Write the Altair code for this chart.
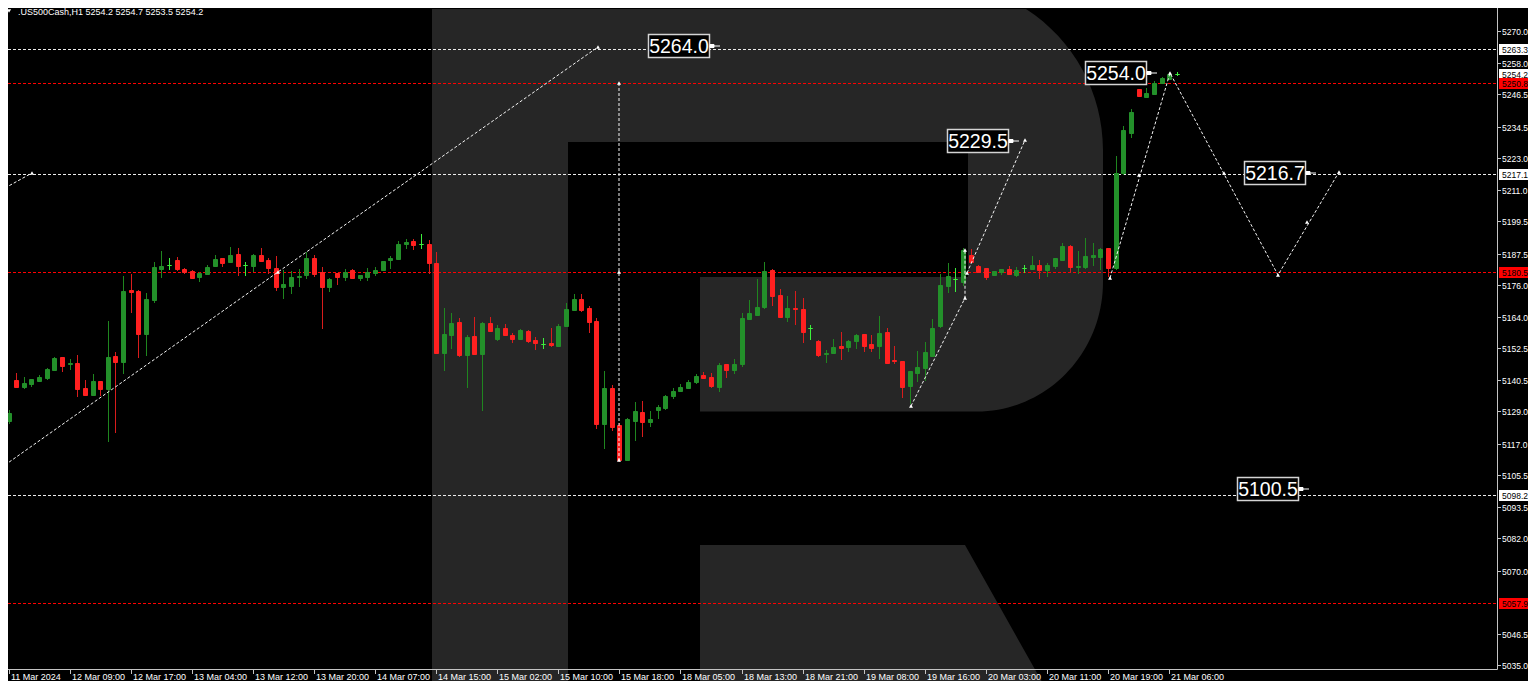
import altair as alt
import pandas as pd

# ---------------- data ----------------
opens = [5125.6, 5140.7, 5138.2, 5139.3, 5140.4, 5141.3, 5144.2, 5149.2, 5146.6, 5147.0,
         5137.8, 5135.2, 5140.3, 5137.4, 5149.7, 5147.3, 5173.9, 5173.5, 5157.7, 5170.3,
         5181.7, 5183.2, 5185.1, 5181.7, 5180.9, 5179.0, 5180.1, 5182.8, 5185.9, 5184.5,
         5187.4, 5183.1, 5182.8, 5187.0, 5185.1, 5182.2, 5175.0, 5175.5, 5178.7, 5179.5,
         5185.9, 5180.6, 5175.3, 5180.4, 5179.0, 5181.4, 5178.5, 5179.0, 5180.2, 5181.4,
         5185.0, 5185.5, 5190.9, 5192.2, 5190.9, 5190.9, 5184.1, 5150.8, 5157.5, 5162.2,
         5150.1, 5157.0, 5150.3, 5161.7, 5155.7, 5159.9, 5157.3, 5155.9, 5158.8, 5155.5,
         5154.0, 5154.2, 5153.1, 5160.7, 5166.7, 5170.7, 5167.4, 5162.5, 5124.4, 5137.8,
         5124.0, 5111.0, 5125.6, 5128.8, 5125.0, 5129.5, 5130.3, 5134.7, 5136.6, 5137.8,
         5140.0, 5142.5, 5141.8, 5138.2, 5146.7, 5144.2, 5146.5, 5163.3, 5164.9, 5167.6,
         5181.4, 5172.1, 5164.1, 5167.5, 5167.0, 5159.8, 5155.0, 5150.2, 5150.5, 5153.4,
         5152.8, 5155.0, 5157.6, 5154.0, 5153.1, 5158.4, 5148.1, 5147.7, 5138.6, 5143.1,
         5145.2, 5149.7, 5160.5, 5175.6, 5178.0, 5177.1, 5187.0, 5182.9, 5182.0, 5179.6,
         5180.7, 5181.8, 5179.7, 5182.0, 5181.7, 5183.2, 5181.3, 5183.0, 5185.1, 5190.3,
         5182.4, 5182.4, 5186.4, 5186.2, 5189.5, 5182.0, 5217.5, 5232.3, 5248.4, 5245.7,
         5246.5, 5250.6, 5252.1, 5254.2]
highs = [5129.5, 5143.4, 5141.6, 5140.9, 5142.4, 5145.0, 5149.3, 5149.2, 5148.4, 5149.8,
         5140.7, 5142.8, 5140.3, 5162.5, 5150.9, 5179.2, 5180.1, 5174.1, 5172.8, 5184.4,
         5188.5, 5186.0, 5186.1, 5182.2, 5181.4, 5180.8, 5183.4, 5187.1, 5185.9, 5189.8,
         5189.6, 5184.5, 5187.4, 5189.6, 5185.9, 5186.6, 5181.3, 5181.1, 5181.7, 5188.1,
         5186.9, 5182.4, 5178.3, 5180.4, 5181.9, 5181.7, 5179.5, 5182.3, 5182.5, 5184.9,
         5186.6, 5192.3, 5192.9, 5192.8, 5194.8, 5192.7, 5188.1, 5167.4, 5165.6, 5163.5,
         5157.3, 5163.9, 5162.2, 5163.9, 5161.2, 5161.4, 5158.2, 5159.7, 5159.2, 5156.5,
         5156.4, 5159.9, 5161.3, 5169.2, 5172.5, 5172.5, 5168.1, 5163.5, 5144.0, 5138.7,
         5124.6, 5126.7, 5132.5, 5132.9, 5129.3, 5131.3, 5135.1, 5137.8, 5139.2, 5140.7,
         5142.7, 5143.5, 5143.3, 5146.8, 5146.7, 5148.4, 5165.6, 5170.3, 5178.1, 5184.5,
         5181.9, 5174.4, 5171.8, 5173.5, 5171.0, 5160.9, 5155.4, 5151.8, 5155.7, 5158.3,
         5155.5, 5157.6, 5157.7, 5157.3, 5164.4, 5159.9, 5153.3, 5147.7, 5143.9, 5151.3,
         5154.9, 5163.3, 5179.9, 5184.1, 5182.2, 5189.5, 5189.1, 5183.1, 5182.0, 5181.1,
         5181.9, 5182.8, 5182.7, 5183.2, 5186.6, 5185.1, 5184.1, 5186.0, 5191.6, 5190.6,
         5188.5, 5193.2, 5191.3, 5189.5, 5189.5, 5223.7, 5234.8, 5241.0, 5248.4, 5248.8,
         5251.6, 5252.8, 5254.9, 5254.7]
lows = [5124.5, 5137.9, 5137.4, 5138.2, 5140.4, 5140.7, 5143.9, 5143.5, 5144.2, 5134.5,
        5134.9, 5134.9, 5134.9, 5117.8, 5121.0, 5142.9, 5165.6, 5148.9, 5149.5, 5169.3,
        5178.6, 5181.4, 5181.1, 5179.9, 5178.2, 5177.1, 5179.8, 5182.4, 5182.5, 5184.4,
        5179.3, 5179.3, 5180.7, 5184.9, 5179.8, 5173.5, 5170.7, 5172.4, 5175.0, 5178.2,
        5179.0, 5159.7, 5173.4, 5176.0, 5177.5, 5178.2, 5177.5, 5177.5, 5179.2, 5181.2,
        5181.8, 5185.1, 5189.2, 5188.8, 5189.2, 5180.1, 5150.3, 5144.1, 5152.0, 5149.3,
        5137.8, 5149.9, 5129.2, 5158.5, 5155.2, 5157.0, 5154.5, 5155.7, 5154.2, 5151.8,
        5152.3, 5152.8, 5152.9, 5160.4, 5166.6, 5166.0, 5158.2, 5122.6, 5115.1, 5121.9,
        5110.4, 5110.9, 5118.2, 5119.6, 5123.2, 5126.2, 5129.6, 5133.7, 5136.2, 5137.3,
        5139.3, 5141.4, 5137.8, 5136.3, 5141.4, 5142.9, 5145.4, 5162.9, 5164.8, 5167.0,
        5168.2, 5163.8, 5162.0, 5161.0, 5154.2, 5155.6, 5149.3, 5147.1, 5150.3, 5148.1,
        5151.1, 5152.1, 5151.1, 5151.1, 5148.4, 5146.7, 5146.6, 5133.9, 5131.8, 5140.0,
        5140.4, 5149.3, 5160.0, 5172.8, 5173.4, 5175.5, 5183.9, 5180.3, 5177.7, 5179.1,
        5179.6, 5179.8, 5179.0, 5180.2, 5181.4, 5178.1, 5179.0, 5181.7, 5184.6, 5180.4,
        5180.1, 5181.9, 5182.9, 5181.4, 5179.0, 5181.5, 5216.6, 5230.2, 5245.4, 5245.1,
        5246.3, 5250.6, 5251.8, 5253.5]
closes = [5128.5, 5138.2, 5139.5, 5140.9, 5141.8, 5144.6, 5148.9, 5145.9, 5147.1, 5137.4,
          5135.2, 5140.3, 5137.3, 5149.2, 5147.3, 5173.8, 5173.2, 5157.7, 5170.7, 5182.4,
          5183.0, 5183.2, 5181.8, 5180.6, 5178.5, 5180.4, 5182.7, 5185.5, 5184.1, 5187.0,
          5182.8, 5183.1, 5187.0, 5184.9, 5182.2, 5175.0, 5176.2, 5178.8, 5179.2, 5185.9,
          5180.1, 5175.0, 5178.1, 5179.0, 5180.8, 5178.5, 5179.5, 5180.8, 5181.4, 5184.9,
          5186.0, 5191.2, 5191.9, 5190.6, 5190.9, 5183.9, 5150.5, 5157.7, 5161.7, 5149.9,
          5156.7, 5150.3, 5161.7, 5159.0, 5159.9, 5157.3, 5155.7, 5159.2, 5155.2, 5154.2,
          5154.0, 5153.5, 5160.7, 5167.0, 5170.6, 5166.5, 5162.2, 5124.4, 5137.8, 5123.2,
          5111.0, 5126.1, 5129.2, 5125.0, 5126.3, 5130.8, 5134.6, 5136.7, 5138.1, 5140.0,
          5142.1, 5141.5, 5138.4, 5146.2, 5144.2, 5146.7, 5163.5, 5165.4, 5167.7, 5181.1,
          5171.8, 5164.0, 5167.3, 5167.0, 5158.6, 5159.8, 5149.9, 5150.8, 5152.8, 5152.7,
          5155.2, 5157.3, 5153.4, 5152.5, 5158.1, 5147.1, 5147.8, 5137.9, 5143.9, 5145.6,
          5151.0, 5159.9, 5175.9, 5179.1, 5178.0, 5188.8, 5184.5, 5180.6, 5179.0, 5181.1,
          5181.9, 5180.1, 5181.6, 5182.0, 5183.3, 5181.4, 5183.3, 5185.7, 5190.3, 5182.4,
          5183.0, 5186.6, 5187.0, 5189.1, 5182.0, 5217.3, 5233.3, 5240.1, 5245.9, 5246.9,
          5250.9, 5252.5, 5253.9, 5254.2]
assert len(opens) == len(highs) == len(lows) == len(closes) == 154

symbol = ".US500Cash,H1"

x_tick_bars = [0, 8, 16, 24, 32, 40, 48, 56, 64, 72, 80, 88, 96, 104, 112, 120, 128, 136, 144, 152]
x_tick_labels = ["11 Mar 2024", "12 Mar 09:00", "12 Mar 17:00", "13 Mar 04:00", "13 Mar 12:00",
                 "13 Mar 20:00", "14 Mar 07:00", "14 Mar 15:00", "15 Mar 02:00", "15 Mar 10:00",
                 "15 Mar 18:00", "18 Mar 05:00", "18 Mar 13:00", "18 Mar 21:00", "19 Mar 08:00",
                 "19 Mar 16:00", "20 Mar 03:00", "20 Mar 11:00", "20 Mar 19:00", "21 Mar 06:00"]
y_tick_values = [5270.0, 5258.0, 5246.5, 5234.5, 5223.0, 5211.0, 5199.5, 5187.5, 5176.0, 5164.0,
                 5152.5, 5140.5, 5129.0, 5117.0, 5105.5, 5093.5, 5082.0, 5070.0, 5046.5, 5035.0]

level_prices = [5263.3, 5250.8, 5217.1, 5180.5, 5098.2, 5057.9]
level_kinds = ["white", "red", "white", "red", "white", "red"]

tag_prices = [5263.3, 5254.2, 5250.8, 5217.1, 5180.5, 5098.2, 5057.9]
tag_kinds = ["white", "white", "red", "white", "red", "white", "red"]

# forecast path segments (bar index, price)
path_seg = [0, 0, 0, 1, 1, 2, 2, 3, 3, 3, 4, 4, 5, 5, 5, 5]
path_bar = [-0.5, 35.3, 77.2, -0.5, 3.06, 80.0, 80.0, 118.2, 125.2, 125.2, 125.5, 133.1,
            144.2, 152.1, 166.2, 174.2]
path_price = [5109.3, 5180.5, 5264.0, 5211.7, 5217.3, 5250.8, 5111.0, 5131.0, 5171.0, 5188.9,
              5180.3, 5229.6, 5178.5, 5254.4, 5179.6, 5217.7]

marker_bar = [35.3, 77.2, 3.06, 80.0, 80.0, 80.0, 118.2, 125.2, 125.2, 125.5, 133.1,
              144.2, 148.1, 152.1, 159.2, 166.2, 170.1, 174.2]
marker_price = [5180.5, 5264.0, 5217.3, 5250.8, 5180.5, 5111.0, 5131.0, 5171.0, 5188.9, 5180.3,
                5229.6, 5178.5, 5216.6, 5254.4, 5217.4, 5179.6, 5199.2, 5217.7]

target_text = ["5264.0", "5254.0", "5229.5", "5216.7", "5100.5"]
target_bar = [87.87, 144.97, 127.02, 165.92, 164.94]
target_price = [5264.3, 5254.4, 5229.4, 5217.4, 5100.1]

# ---------------- layout / styles ----------------
W, H = 1489, 661
X_DOM = [0.5854, 194.276]
Y_DOM = [5033.54, 5278.535]
FONT = "Liberation Sans"
BG = "#000000"
LOGO = "#262626"
AXIS = "#c4c4c4"

xs = alt.Scale(domain=X_DOM, nice=False, zero=False, round=True)
ys = alt.Scale(domain=Y_DOM, nice=False, zero=False, round=True)


def X(f):
    return alt.X(f, type="quantitative", scale=xs, axis=None)


def Y(f):
    return alt.Y(f, type="quantitative", scale=ys, axis=None)


candles = pd.DataFrame({"bar": list(range(len(opens))), "o": opens, "h": highs, "l": lows, "c": closes})
one = pd.DataFrame({"k": [0]})

# R watermark drawn as one custom symbol in page pixels (size 4 -> 1 unit = 1px)
logo_path = ("M432,9H1026C1074,40 1103,92.9 1103,150V282C1103,353.5 1046.6,411.5 977,411.5"
             "H700V277H968V142H568V689H432Z M700,545H965L1046,689H700Z")
logo = alt.Chart(one).mark_point(shape=logo_path, size=4, filled=True, color=LOGO, opacity=1,
                                 strokeWidth=0).encode(x=alt.value(-8), y=alt.value(-8))

lv = pd.DataFrame({"price": level_prices, "kind": level_kinds})
levels_white = alt.Chart(lv).transform_filter("datum.kind == 'white'").mark_rule(
    strokeDash=[3, 2], strokeWidth=1, yOffset=0.5, y2Offset=0.5, color="#ececec").encode(
    y=Y("price"), y2="price:Q", x=alt.value(0), x2=alt.value(W))
levels_red = alt.Chart(lv).transform_filter("datum.kind == 'red'").mark_rule(
    strokeDash=[3, 2], strokeWidth=1, yOffset=0.5, y2Offset=0.5, color="#ff0000").encode(
    y=Y("price"), y2="price:Q", x=alt.value(0), x2=alt.value(W))

wicks = alt.Chart(candles).transform_calculate(
    wc="datum.c > datum.o ? '#1f861f' : (datum.c < datum.o ? '#d81c1c' : '#3cf03c')"
).mark_rule(strokeWidth=1, xOffset=0.5, x2Offset=0.5, clip=True).encode(
    x=X("bar"), y=Y("l"), y2="h:Q", color=alt.Color("wc:N", scale=None))

bodies = alt.Chart(candles).transform_calculate(
    bc="datum.c > datum.o ? '#23902a' : (datum.c < datum.o ? '#ff2020' : '#3cf03c')"
).mark_bar(size=4, strokeWidth=1, xOffset=0.5, yOffset=0.5, y2Offset=0.5, clip=True).encode(
    x=X("bar"), y=Y("o"), y2="c:Q",
    color=alt.Color("bc:N", scale=None), stroke=alt.Stroke("bc:N", scale=None))

paths = alt.Chart(pd.DataFrame({"seg": path_seg, "idx": list(range(len(path_seg))),
                                "bar": path_bar, "price": path_price})).mark_line(
    strokeDash=[3, 2], strokeWidth=1, color="#f4f4f4", clip=True).encode(
    x=X("bar"), y=Y("price"), detail="seg:N", order="idx:Q")

markers = alt.Chart(pd.DataFrame({"bar": marker_bar, "price": marker_price})).mark_point(
    shape="triangle-up", size=16, filled=True, color="#ffffff", opacity=1).encode(
    x=X("bar"), y=Y("price"))

tdf = pd.DataFrame({"t": target_text, "bar": target_bar, "price": target_price})
tbox = alt.Chart(tdf).mark_point(shape="M-30.5,-11.5H30.5V11.5H-30.5Z", size=4, filled=True,
                                 fill="#000000", stroke="#d4d4d4", strokeWidth=1.5, opacity=1).encode(
    x=X("bar"), y=Y("price"))
tconn = alt.Chart(tdf).mark_point(shape="M31,-1.5H35V1.5H31Z M35,0H41", size=4, filled=True,
                                  fill="#ffffff", stroke="#ffffff", strokeWidth=1, opacity=1).encode(
    x=X("bar"), y=Y("price"))
ttext = alt.Chart(tdf).mark_text(font=FONT, fontSize=19.5, color="#ffffff", align="center",
                                 baseline="middle", dy=1).encode(x=X("bar"), y=Y("price"), text="t:N")

# ---- hand-drawn axes (right price scale, bottom time scale) ----
yaxis_line = alt.Chart(one).mark_rule(color=AXIS, strokeWidth=1).encode(
    x=alt.value(W + 0.5), x2=alt.value(W + 0.5), y=alt.value(0), y2=alt.value(H + 0.5))
xaxis_line = alt.Chart(one).mark_rule(color=AXIS, strokeWidth=1).encode(
    x=alt.value(0), x2=alt.value(W + 0.5), y=alt.value(H + 0.5), y2=alt.value(H + 0.5))

ytk = pd.DataFrame({"price": y_tick_values})
yticks = alt.Chart(ytk).mark_rule(color=AXIS, strokeWidth=1, yOffset=0.5, y2Offset=0.5).encode(
    y=Y("price"), y2="price:Q", x=alt.value(W + 1), x2=alt.value(W + 4))
ylabels = alt.Chart(ytk).mark_text(font=FONT, fontSize=8.5, color="#ffffff", align="left",
                                   baseline="middle", dy=1).encode(
    y=Y("price"), x=alt.value(W + 5), text=alt.Text("price:Q", format=".1f"))

xtk = pd.DataFrame({"bar": x_tick_bars, "lab": x_tick_labels})
xticks = alt.Chart(xtk).mark_rule(color=AXIS, strokeWidth=1, xOffset=0.5, x2Offset=0.5).encode(
    x=X("bar"), x2="bar:Q", y=alt.value(H + 1), y2=alt.value(H + 5))
xlabels = alt.Chart(xtk).mark_text(font=FONT, fontSize=9, color="#ffffff", align="left",
                                   baseline="alphabetic", dx=2).encode(
    x=X("bar"), y=alt.value(H + 11), text="lab:N")

tagdf = pd.DataFrame({"price": tag_prices, "kind": tag_kinds})
tagbox = alt.Chart(tagdf).transform_calculate(
    col="datum.kind == 'red' ? '#ff0000' : '#ffffff'"
).mark_point(shape="M-16.5,-5.5H16.5V5.5H-16.5Z", size=4, filled=True, opacity=1, strokeWidth=0,
             yOffset=0.5).encode(
    x=alt.value(W + 18.5), y=Y("price"), color=alt.Color("col:N", scale=None))
tagtext = alt.Chart(tagdf).mark_text(font=FONT, fontSize=8.5, color="#000000", align="left",
                                     baseline="middle", dy=1).encode(
    x=alt.value(W + 5), y=Y("price"), text=alt.Text("price:Q", format=".1f"))

title_str = f"{symbol}  " + " ".join(f"{v:.1f}" for v in [opens[-1], highs[-1], lows[-1], closes[-1]])
title = alt.Chart(one).mark_text(text=title_str, font=FONT, fontSize=9, color="#ffffff",
                                 align="left", baseline="top").encode(x=alt.value(10), y=alt.value(0))
icon = alt.Chart(one).mark_point(shape="triangle-down", size=18, filled=True, color="#ffffff",
                                 opacity=1).encode(x=alt.value(1), y=alt.value(3))

chart = alt.layer(
    logo, levels_white, levels_red, wicks, bodies, paths, markers, tbox, tconn, ttext,
    yaxis_line, xaxis_line, yticks, ylabels, xticks, xlabels, tagbox, tagtext, title, icon
).properties(
    width=W, height=H, background=BG,
    padding={"left": 0, "top": 0, "right": 31, "bottom": 12},
    autosize=alt.AutoSizeParams(type="none"),
).configure_view(strokeWidth=0)

chart.save("out.html", embed_options={"renderer": "svg", "actions": False})
